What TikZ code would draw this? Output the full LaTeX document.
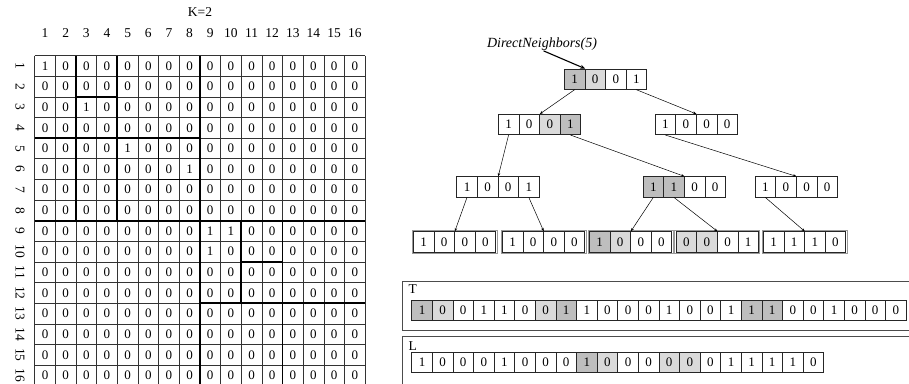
\documentclass[tikz,border=0pt]{standalone}
\usepackage{fontspec}
\setmainfont{Liberation Serif}
\usetikzlibrary{arrows.meta}
\definecolor{dk}{RGB}{190,190,190}
\definecolor{lt}{RGB}{218,218,218}
\newcommand\bitarr[4]{%
  \foreach \b/\f [count=\i] in {#4} {%
    \node[cellbox, fill=\f] (#1-\i) at ({#2+(\i-0.5)*20.6},{#3+10.2}) {\b};}}
\newcommand\leafframe[1]{%
  \draw[black!40, line width=0.5pt] ([shift={(-1pt,1pt)}]#1-1.north west) rectangle ([shift={(1pt,-1pt)}]#1-4.south east);}
\begin{document}
\begin{tikzpicture}[x=1pt,y=-1pt,
  txt/.style={font=\fontsize{13.5}{14}\selectfont, inner sep=0pt},
  cellbox/.style={draw=black!85, line width=0.6pt, minimum width=20.6pt, minimum height=20.4pt, inner sep=0pt, font=\fontsize{13}{13}\selectfont},
  mcell/.style={minimum width=20.65pt, minimum height=20.65pt, inner sep=0pt, font=\fontsize{13}{13}\selectfont},
  thinline/.style={draw=black!80, line width=0.6pt},
  thickline/.style={draw=black, line width=1.7pt},
  edge/.style={draw=black, line width=0.5pt, -{Stealth[length=3.5pt,width=2.6pt]}},
  boxline/.style={draw=black!70, line width=0.9pt}]
\useasboundingbox (0,0) rectangle (909,383);
% ---------- matrix ----------
\node[txt] (k2) at (200,12) {K=2};
\foreach \c in {1,...,16} {
  \node[txt] (col\c) at ({34.7+(\c-0.5)*20.65},33) {\c};
  \node[txt, rotate=-90] (row\c) at (20,{55.5+(\c-0.5)*20.65}) {\c};
}
\foreach \r in {1,...,16} {
  \foreach \c in {1,...,16} {
    \pgfmathtruncatemacro\v{((\r==1)&&(\c==1))||((\r==3)&&(\c==3))||((\r==5)&&(\c==5))||((\r==6)&&(\c==8))||((\r==9)&&(\c==9))||((\r==9)&&(\c==10))||((\r==10)&&(\c==9))}
    \node[mcell] (m-\r-\c) at ({34.7+(\c-0.5)*20.65},{55.5+(\r-0.5)*20.65}) {\v};
  }
}
\foreach \i in {0,...,16} {
  \draw[thinline] ({34.7+\i*20.65},55.5) -- ({34.7+\i*20.65},{55.5+16*20.65});
  \draw[thinline] (34.7,{55.5+\i*20.65}) -- ({34.7+16*20.65},{55.5+\i*20.65});
}
\foreach \a/\f/\t in {8/0/16,4/0/8,2/0/8,6/4/8,12/8/16,10/8/12} {
  \draw[thickline] ({34.7+\a*20.65},{55.5+\f*20.65}) -- ({34.7+\a*20.65},{55.5+\t*20.65});
}
\foreach \a/\f/\t in {8/0/16,4/0/8,2/2/4,6/6/8,12/8/16,10/10/12} {
  \draw[thickline] ({34.7+\f*20.65},{55.5+\a*20.65}) -- ({34.7+\t*20.65},{55.5+\a*20.65});
}
% ---------- tree ----------
\bitarr{root}{564.3}{69}{1/dk,0/lt,0/white,1/white}
\bitarr{lta}{498.3}{114.3}{1/white,0/white,0/lt,1/dk}
\bitarr{ltb}{655}{114.3}{1/white,0/white,0/white,0/white}
\bitarr{lua}{456.7}{176.7}{1/white,0/white,0/white,1/white}
\bitarr{lub}{643}{176.7}{1/dk,1/dk,0/white,0/white}
\bitarr{luc}{755}{176.7}{1/white,0/white,0/white,0/white}
\bitarr{lfa}{413.3}{231.7}{1/white,0/white,0/white,0/white}
\bitarr{lfb}{502.3}{231.7}{1/white,0/white,0/white,0/white}
\bitarr{lfc}{589.3}{231.7}{1/dk,0/lt,0/white,0/white}
\bitarr{lfd}{676}{231.7}{0/lt,0/lt,0/white,1/white}
\bitarr{lfe}{763.3}{231.7}{1/white,1/white,1/white,0/white}
\foreach \n in {lfa,lfb,lfc,lfd,lfe} {\leafframe{\n}}
\draw[edge] (root-1.south) -- (lta-2.north east);
\draw[edge] (root-4.south) -- (ltb-2.north east);
\draw[edge] (lta-1.south) -- (lua-2.north east);
\draw[edge] (lta-4.south) -- (lub-2.north east);
\draw[edge] (ltb-1.south) -- (luc-2.north east);
\draw[edge] (lua-1.south) -- (lfa-2.north east);
\draw[edge] (lua-4.south) -- (lfb-2.north east);
\draw[edge] (lub-1.south) -- (lfc-2.north east);
\draw[edge] (lub-2.south) -- (lfd-2.north east);
\draw[edge] (luc-1.south) -- (lfe-2.north east);
\node[font=\itshape\fontsize{14}{14}\selectfont, inner sep=0pt] (dn) at (542,44.3) {DirectNeighbors(5)};
\draw[line width=1.1pt, -{Stealth[length=5pt,width=4pt]}] ([xshift=1.5pt]dn.south) -- (root-1.north east);
% ---------- T and L ----------
\draw[boxline] (402.7,281) rectangle (935,330);
\node[txt, anchor=west] (tlab) at (408.5,289.5) {T};
\bitarr{tb}{411.7}{300}{1/dk,0/lt,0/white,1/white,1/white,0/white,0/lt,1/dk,1/white,0/white,0/white,0/white,1/white,0/white,0/white,1/white,1/dk,1/dk,0/white,0/white,1/white,0/white,0/white,0/white}
\draw[boxline] (402.7,336.7) rectangle (935,400);
\node[txt, anchor=west] (llab) at (408.5,346.5) {L};
\bitarr{lb}{411.7}{352}{1/white,0/white,0/white,0/white,1/white,0/white,0/white,0/white,1/dk,0/lt,0/white,0/white,0/lt,0/lt,0/white,1/white,1/white,1/white,1/white,0/white}
\end{tikzpicture}
\end{document}
